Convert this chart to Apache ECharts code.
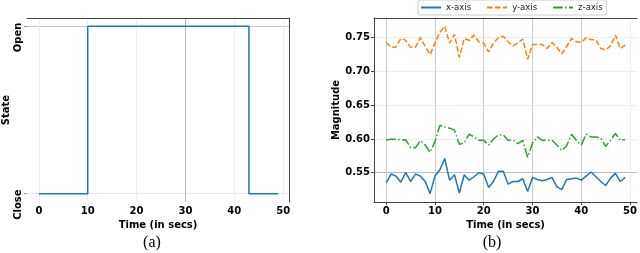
<!DOCTYPE html>
<html><head><meta charset="utf-8">
<script src="https://cdn.jsdelivr.net/npm/echarts@6/dist/echarts.min.js"></script>
<style>html,body{margin:0;padding:0;background:#fff}#c{width:640px;height:253px}</style>
</head><body><div id="c"></div>
<script>
const time = [0,1,2,3,4,5,6,7,8,9,10,11,12,13,14,15,16,17,18,19,20,21,22,23,24,25,26,27,28,29,30,31,32,33,34,35,36,37,38,39,40,41,42,43,44,45,46,47,48,49];
const doorState = [0,0,0,0,0,0,0,0,0,0,1,1,1,1,1,1,1,1,1,1,1,1,1,1,1,1,1,1,1,1,1,1,1,1,1,1,1,1,1,1,1,1,1,0,0,0,0,0,0,0];
const xAxisMag = [0.535,0.548,0.545,0.536,0.550,0.537,0.548,0.545,0.537,0.519,0.545,0.554,0.571,0.539,0.547,0.520,0.547,0.539,0.544,0.550,0.548,0.528,0.537,0.552,0.552,0.533,0.537,0.537,0.541,0.522,0.543,0.540,0.538,0.540,0.543,0.529,0.525,0.540,0.541,0.542,0.539,0.545,0.551,0.544,0.537,0.531,0.542,0.549,0.537,0.543];
const yAxisMag = [0.743,0.736,0.736,0.749,0.746,0.736,0.736,0.750,0.737,0.725,0.742,0.758,0.767,0.742,0.755,0.721,0.749,0.746,0.754,0.744,0.742,0.729,0.742,0.750,0.752,0.744,0.738,0.742,0.748,0.718,0.740,0.740,0.740,0.734,0.743,0.736,0.726,0.737,0.749,0.744,0.743,0.750,0.747,0.747,0.734,0.732,0.738,0.754,0.734,0.739];
const zAxisMag = [0.5985,0.5995,0.5995,0.5985,0.599,0.587,0.587,0.5975,0.591,0.580,0.596,0.620,0.618,0.616,0.613,0.592,0.594,0.607,0.603,0.598,0.598,0.591,0.600,0.606,0.606,0.598,0.598,0.593,0.598,0.573,0.594,0.603,0.598,0.598,0.598,0.591,0.583,0.590,0.607,0.598,0.591,0.607,0.603,0.603,0.601,0.589,0.598,0.608,0.598,0.599];
const stateTicks = [0, 1];
const stateTickLabels = ['Close', 'Open'];
const timeTicks = [0, 10, 20, 30, 40, 50];
const magTicks = [0.55, 0.60, 0.65, 0.70, 0.75];
const seriesNames = ['x-axis', 'y-axis', 'z-axis'];
const captions = ['(a)', '(b)'];

const pairs = (vals) => time.map((t, i) => [t, vals[i]]);
const FONT = 'DejaVu Sans';
const tickFont = {fontFamily: FONT, fontWeight: 'bold', fontSize: 10, color: '#000'};
const nameFont = {fontFamily: FONT, fontWeight: 'bold', fontSize: 10, color: '#000'};
const spine = {show: true, onZero: false, lineStyle: {color: '#444', width: 1}};

const chart = echarts.init(document.getElementById('c'), null, {renderer: 'canvas'});
chart.setOption({
  animation: false,
  backgroundColor: '#fff',
  grid: [
    {left: 24, top: 18, width: 265, height: 184},
    {left: 374, top: 18, width: 265, height: 184}
  ],
  legend: {
    data: seriesNames, left: 418, top: 0, itemWidth: 20, itemHeight: 10, itemGap: 15,
    padding: [3, 4, 3, 2], borderColor: '#ccc', borderWidth: 1, borderRadius: 2, backgroundColor: '#fff',
    itemStyle: {opacity: 0},
    textStyle: {fontFamily: FONT, fontSize: 8.5, color: '#222'}
  },
  xAxis: [
    {gridIndex: 0, type: 'value', min: -2.43, max: 51.2,
     axisLine: {show: false, onZero: false},
     axisTick: {show: false, customValues: timeTicks},
     axisLabel: Object.assign({customValues: timeTicks, margin: 4}, tickFont),
     splitLine: {show: true, lineStyle: {color: ['#eee','#eee','#eee','#bbb','#eee','#eee'], width: 1}},
     name: 'Time (in secs)', nameLocation: 'middle', nameGap: 15, nameTextStyle: nameFont},
    {gridIndex: 0, type: 'value', position: 'top', min: -2.43, max: 51.2,
     axisLine: spine, axisTick: {show: false}, axisLabel: {show: false}, splitLine: {show: false}},
    {gridIndex: 1, type: 'value', min: -2.5, max: 51.45,
     axisLine: spine,
     axisTick: {show: true, length: 3, customValues: timeTicks, lineStyle: {color: '#444'}},
     axisLabel: Object.assign({customValues: timeTicks, margin: 4}, tickFont),
     splitLine: {show: true, lineStyle: {color: ['#ccc','#ccc','#ccc','#ccc','#ccc','#eee'], width: 1}},
     name: 'Time (in secs)', nameLocation: 'middle', nameGap: 15, nameTextStyle: nameFont},
    {gridIndex: 1, type: 'value', position: 'top', min: -2.5, max: 51.45,
     axisLine: spine, axisTick: {show: false}, axisLabel: {show: false}, splitLine: {show: false}}
  ],
  yAxis: [
    {gridIndex: 0, type: 'value', min: -0.05, max: 1.05,
     axisLine: {show: false, onZero: false},
     axisTick: {show: true, length: 3, customValues: stateTicks, lineStyle: {color: '#999'}},
     axisLabel: Object.assign({customValues: stateTicks, rotate: 90, margin: 4, padding: [0, 22, 0, 0],
       formatter: (v) => stateTickLabels[stateTicks.indexOf(v)]}, tickFont),
     splitLine: {show: true, lineStyle: {color: ['#e6e6e6', '#c8c8c8'], width: 1}},
     name: 'State', nameLocation: 'middle', nameGap: 16, nameTextStyle: nameFont},
    {gridIndex: 0, type: 'value', position: 'right', min: -0.05, max: 1.05,
     axisLine: spine, axisTick: {show: false}, axisLabel: {show: false}, splitLine: {show: false}},
    {gridIndex: 1, type: 'value', min: 0.5066, max: 0.7792,
     axisLine: spine,
     axisTick: {show: true, length: 3, customValues: magTicks, lineStyle: {color: '#444'}},
     axisLabel: Object.assign({customValues: magTicks, margin: 4, formatter: (v) => v.toFixed(2)}, tickFont),
     splitLine: {show: true, lineStyle: {color: ['#bbb', '#eee', '#eee', '#eee', '#eee'], width: 1}},
     name: 'Magnitude', nameLocation: 'middle', nameGap: 33, nameTextStyle: nameFont}
  ],
  series: [
    {name: 'State', type: 'line', xAxisIndex: 0, yAxisIndex: 0, step: 'end', symbol: 'none',
     data: pairs(doorState), lineStyle: {color: '#1f77b4', width: 1.5}, itemStyle: {color: '#1f77b4'}},
    {name: seriesNames[0], type: 'line', xAxisIndex: 2, yAxisIndex: 2, symbol: 'none',
     data: pairs(xAxisMag), lineStyle: {color: '#1f77b4', width: 1.5}, itemStyle: {color: '#1f77b4'}},
    {name: seriesNames[1], type: 'line', xAxisIndex: 2, yAxisIndex: 2, symbol: 'none',
     data: pairs(yAxisMag), lineStyle: {color: '#ff7f0e', width: 1.5, type: [5.5, 2.4]}, itemStyle: {color: '#ff7f0e'}},
    {name: seriesNames[2], type: 'line', xAxisIndex: 2, yAxisIndex: 2, symbol: 'none',
     data: pairs(zAxisMag), lineStyle: {color: '#2ca02c', width: 1.5, type: [9.6, 2.4, 1.5, 2.4]}, itemStyle: {color: '#2ca02c'}}
  ],
  graphic: [
    {type: 'text', style: {text: captions[0], x: 152, y: 243, align: 'center', verticalAlign: 'middle', font: '16px "Liberation Serif"', fill: '#000'}},
    {type: 'text', style: {text: captions[1], x: 492, y: 243, align: 'center', verticalAlign: 'middle', font: '16px "Liberation Serif"', fill: '#000'}}
  ]
});
</script></body></html>
